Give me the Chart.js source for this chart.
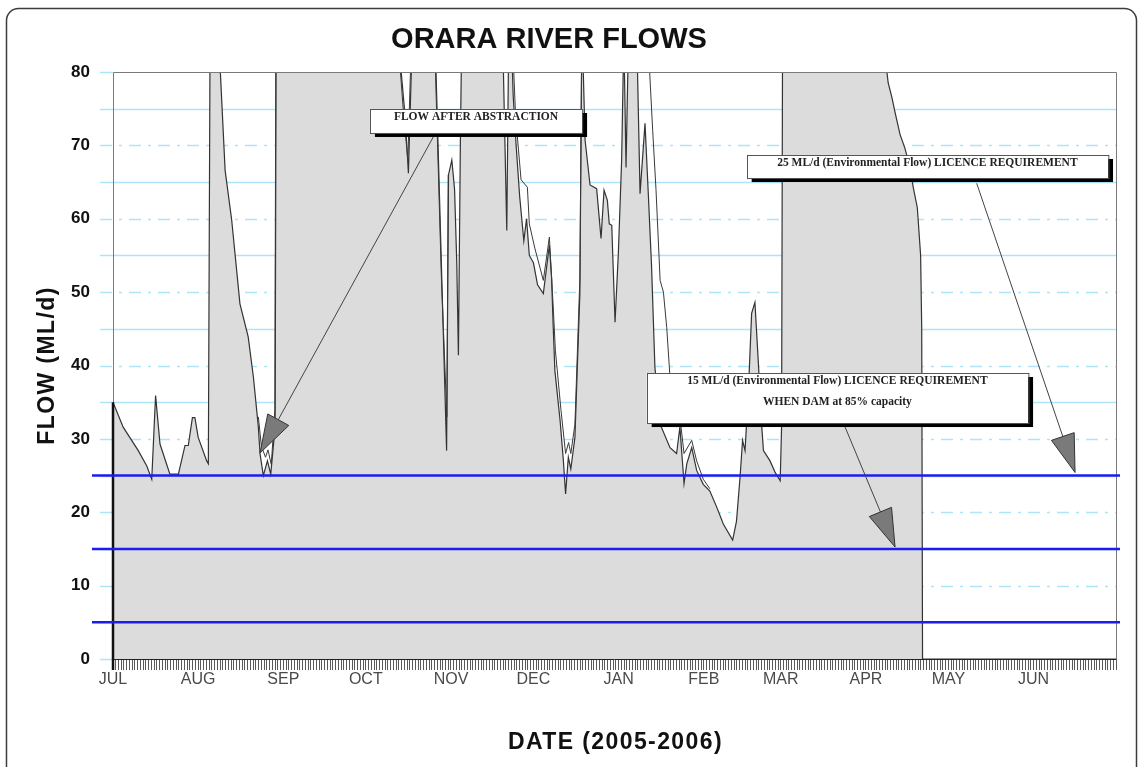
<!DOCTYPE html>
<html>
<head>
<meta charset="utf-8">
<title>Orara River Flows</title>
<script src="https://cdn.jsdelivr.net/npm/chart.js@4/dist/chart.umd.min.js"></script>
<style>
  html, body { margin: 0; padding: 0; background: #fff; }
  #wrap { position: relative; width: 1139px; height: 767px; }
</style>
</head>
<body>
<div id="wrap"><canvas id="myChart"></canvas></div>
<script>
// days counted from 1 July 2005
const monthLabels = ["JUL", "AUG", "SEP", "OCT", "NOV", "DEC", "JAN", "FEB", "MAR", "APR", "MAY", "JUN"]
const monthStartDays = [0, 31, 62, 92, 123, 153, 184, 215, 243, 274, 304, 335]
const yTicks = [0, 10, 20, 30, 40, 50, 60, 70, 80]
const licenceLevels = [25, 15, 5]

// flow after abstraction (grey area), ML/d; values over 80 run off the top
const flowDays = [
    0, 3.7, 9.2, 12.3, 14.1, 15.5, 17.1, 20.7, 23.8, 26.2, 27.4, 28.9, 29.8, 31.0, 34.1, 34.7, 35.7,
    38.8, 40.8, 43.2, 46.2, 49.2, 51.1, 52.9, 53.5, 54.7, 56.2, 57.4, 59.0, 59.6,
    104.4, 106.3, 107.5, 108.7,
    117.4, 121.4, 122.1, 123.3, 124.3, 125.1, 125.7, 126.4, 126.9,
    141.8, 143.3, 144.0,
    145.0, 145.6, 146.7, 148.0, 149.5, 150.5, 151.5, 153.0, 154.5, 156.6, 158.8, 159.6, 160.2, 160.8,
    162.7, 163.9, 164.7, 165.7, 166.6, 168.1, 169.9, 170.6,
    171.0, 171.8, 173.6, 176.0, 177.6, 178.7, 179.9, 180.6, 181.5, 182.7, 183.9, 185.1, 185.9, 186.7, 187.6,
    190.6, 191.8, 193.6, 194.8, 196.0, 197.2, 199.1, 202.7, 205.1, 206.3, 207.8, 208.8, 210.6, 212.4,
    214.8, 217.2, 219.7, 222.1, 225.5, 226.9, 228.2, 229.1, 230.0, 231.2, 232.4, 233.6, 234.8, 236.1,
    236.7, 239.1, 241.0, 242.8, 243.3, 243.9,
    281.0, 282.1, 283.4, 284.6, 286.4, 288.2, 290.0, 291.2, 292.7, 293.9, 294.3, 294.6, 365
]
const flowAfterAbstraction = [
    35.0, 31.6, 28.4, 26.3, 24.5, 35.9, 29.3, 25.2, 25.2, 29.1, 29.1, 32.9, 32.9, 30.2, 27.0, 26.6, 120,
    82, 66.6, 59.8, 48.4, 43.9, 38.4, 31.6, 28.0, 25.0, 27.0, 25.2, 31.6, 120,
    82, 74, 66.2, 82,
    82, 28.4, 66, 68, 64, 54, 41.4, 70, 85,
    85, 58.4, 85,
    85, 77, 70, 63, 57, 60, 55, 54, 51, 49.8, 56.4, 52, 45.2, 39.3,
    32.5, 27.0, 22.5, 27.5, 25.9, 30.2, 49.8, 85,
    82, 70.7, 64.6, 64.1, 57.3, 63.9, 62.5, 59.3, 59.1, 45.9, 55.3, 68, 85, 67, 85,
    85, 63.4, 73, 63.4, 53.4, 39.8, 32, 28.8, 28, 31.6, 23.9, 26.6, 28.8, 25.7,
    23.8, 22.9, 20.7, 18.4, 16.2, 18.8, 24.8, 29.8, 28.4, 36.2, 47.1, 48.6, 40.7, 31.6,
    28.4, 27, 25.4, 24.3, 31.6, 120,
    82, 78.5, 76.6, 74.5, 71.5, 69.6, 67, 64.3, 61.5, 55, 45, 0, 0
]

// natural flow, drawn only where it separates from the abstracted flow (null = gap)
const naturalDays = [
    52.9, 54.0, 55.5, 56.4, 57.6, 58.9, 59.5, 59.6,
    104.2, 105.8, 107.3, 108.4, 108.5,
    117.2, 119.5, 121.5, 122.0, 122.1,
    145.3, 146.5, 148.5, 150.8, 151.5, 153.5, 156.6, 158.8, 160.2, 161.0, 163.0, 164.7, 165.8,
    166.6, 168.1, 169.9, 170.6, 170.7,
    194.6, 196.4, 197.6, 199.1, 200.3, 201.5, 202.7, 205.1, 206.3, 207.8, 210.6, 212.4, 214.8, 217.2
]
const naturalFlow = [
    33, 29, 27.5, 28.5, 26.5, 34, 120, null,
    82, 74, 68, 82, null,
    82, 52, 33, 66, null,
    85, 74, 65.3, 64.3, 59.3, 56, 51.6, 57.5, 48, 42, 34, 28, 29.5,
    28, 32, 52, 85, null,
    85, 72, 64, 51.6, 50, 45.2, 38.4, 31.6, 33, 28, 29.8, 27, 24.5, 23.2
]

// callout boxes and arrows, in chart units (day, ML/d)
const notes = [
    { lines: ["FLOW AFTER ABSTRACTION"], box: [93.5, 74.96, 170.7, 71.69], arrow: [116.6, 71.18, 53.5, 28.07] },
    { lines: ["25 ML/d (Environmental Flow) LICENCE REQUIREMENT"], box: [230.6, 68.69, 362.1, 65.55], arrow: [314.3, 64.83, 350.1, 25.42] },
    { lines: ["15 ML/d (Environmental Flow) LICENCE REQUIREMENT", "WHEN DAM at 85% capacity"], box: [194.2, 38.98, 333.0, 32.16], arrow: [266.4, 31.62, 284.6, 15.26] }
]

function main() {
    Chart.defaults.font.family = "'Liberation Sans', Arial, sans-serif"

    const flowPoints = flowDays.map((d, i) => ({ x: d, y: flowAfterAbstraction[i] }))
    const naturalPoints = naturalDays.map((d, i) => ({ x: d, y: naturalFlow[i] }))

    new Chart(document.getElementById("myChart"), {
        type: "line",
        data: {
            datasets: [
                {
                    label: "Natural flow",
                    data: naturalPoints,
                    borderColor: "#3a3a3a",
                    borderWidth: 1,
                    pointRadius: 0,
                    fill: false,
                    spanGaps: false,
                },
                {
                    label: "Flow after abstraction",
                    data: flowPoints,
                    borderColor: "#333",
                    borderWidth: 1.2,
                    backgroundColor: "#dcdcdc",
                    pointRadius: 0,
                    fill: "origin",
                },
            ],
        },
        options: {
            responsive: true,
            maintainAspectRatio: false,
            animation: false,
            layout: { padding: { top: 72, left: 20, right: 23, bottom: 20 } },
            plugins: { legend: { display: false }, tooltip: { enabled: false } },
            elements: { line: { tension: 0 } },
            scales: {
                x: {
                    type: "linear",
                    min: 0,
                    max: 365,
                    afterBuildTicks: scale => {
                        const t = []
                        for (let d = 0; d <= 365; d++) t.push({ value: d })
                        scale.ticks = t
                    },
                    afterFit: scale => { scale.height = 88 },
                    grid: {
                        drawOnChartArea: false,
                        drawTicks: true,
                        tickLength: 11,
                        tickColor: "#5a5a5a",
                        tickWidth: 1,
                    },
                    border: { display: false },
                    ticks: {
                        autoSkip: false,
                        maxRotation: 0,
                        padding: 0,
                        color: "#4a4a4a",
                        font: { size: 16 },
                        callback: value => {
                            const i = monthStartDays.indexOf(value)
                            return i >= 0 ? monthLabels[i] : ""
                        },
                    },
                },
                y: {
                    min: 0,
                    max: 80,
                    afterBuildTicks: scale => { scale.ticks = yTicks.map(v => ({ value: v })) },
                    afterFit: scale => { scale.width = 93 },
                    grid: { display: false },
                    border: { display: false },
                    ticks: {
                        padding: 15,
                        color: "#111",
                        font: { size: 17, weight: "bold" },
                    },
                },
            },
        },
        plugins: [decor],
    })
}

const decor = {
    id: "decor",
    beforeDraw(chart) {
        const ctx = chart.ctx
        ctx.save()
        ctx.fillStyle = "#fff"
        ctx.fillRect(0, 0, chart.width, chart.height)
        ctx.strokeStyle = "#3c3c3c"
        ctx.lineWidth = 1.5
        ctx.beginPath()
        ctx.roundRect(6.5, 8.5, 1130, 790, 12)
        ctx.stroke()
        ctx.restore()
    },
    beforeDatasetsDraw(chart) {
        const { ctx, chartArea: a } = chart
        const y = chart.scales.y
        ctx.save()
        ctx.strokeStyle = "#aee4f8"
        ctx.lineWidth = 1.5
        for (let v = 0; v <= 80; v += 5) {
            const py = Math.round(y.getPixelForValue(v)) + 0.5
            const edge = v === 0 || v === 80
            ctx.setLineDash(v % 10 === 0 && !edge ? [12, 7, 3, 7] : [])
            ctx.beginPath()
            ctx.moveTo(a.left - 13, py)
            ctx.lineTo(edge ? a.left : a.right, py)
            ctx.stroke()
        }
        ctx.restore()
    },
    afterDatasetsDraw(chart) {
        const { ctx, chartArea: a } = chart
        const xs = chart.scales.x
        const ys = chart.scales.y
        ctx.save()

        // frame
        ctx.strokeStyle = "#7a7a7a"
        ctx.lineWidth = 1
        ctx.beginPath()
        ctx.moveTo(a.left + 0.5, a.bottom)
        ctx.lineTo(a.left + 0.5, a.top + 0.5)
        ctx.lineTo(a.right + 0.5, a.top + 0.5)
        ctx.lineTo(a.right + 0.5, a.bottom)
        ctx.stroke()
        ctx.strokeStyle = "#222"
        ctx.beginPath()
        ctx.moveTo(a.left, a.bottom + 0.5)
        ctx.lineTo(a.right, a.bottom + 0.5)
        ctx.stroke()
        ctx.lineWidth = 2.5
        ctx.strokeStyle = "#111"
        ctx.beginPath()
        ctx.moveTo(a.left, ys.getPixelForValue(flowAfterAbstraction[0]))
        ctx.lineTo(a.left, a.bottom + 11)
        ctx.stroke()

        // licence requirement lines
        ctx.strokeStyle = "#1c1cf0"
        ctx.lineWidth = 2.5
        licenceLevels.forEach(v => {
            const py = ys.getPixelForValue(v)
            ctx.beginPath()
            ctx.moveTo(a.left - 21, py)
            ctx.lineTo(a.right + 4, py)
            ctx.stroke()
        })

        // callouts
        notes.forEach(n => {
            drawArrow(ctx,
                xs.getPixelForValue(n.arrow[0]), ys.getPixelForValue(n.arrow[1]),
                xs.getPixelForValue(n.arrow[2]), ys.getPixelForValue(n.arrow[3]))
        })
        notes.forEach(n => {
            const x0 = xs.getPixelForValue(n.box[0])
            const y0 = ys.getPixelForValue(n.box[1])
            const x1 = xs.getPixelForValue(n.box[2])
            const y1 = ys.getPixelForValue(n.box[3])
            ctx.fillStyle = "#000"
            ctx.fillRect(x0 + 5, y0 + 4, x1 - x0, y1 - y0)
            ctx.fillStyle = "#fff"
            ctx.fillRect(x0, y0, x1 - x0, y1 - y0)
            ctx.strokeStyle = "#555"
            ctx.lineWidth = 1
            ctx.strokeRect(Math.round(x0) + 0.5, Math.round(y0) + 0.5, x1 - x0, y1 - y0)
            ctx.fillStyle = "#222"
            ctx.font = "bold 11.5px 'Liberation Serif', 'Times New Roman', serif"
            ctx.textAlign = "center"
            ctx.textBaseline = "middle"
            n.lines.forEach((t, i) => {
                ctx.fillText(t, (x0 + x1) / 2, y0 + 8 + i * 21)
            })
        })

        ctx.restore()
    },
    afterDraw(chart) {
        const { ctx, chartArea: a } = chart
        ctx.save()
        ctx.fillStyle = "#111"
        ctx.textAlign = "center"
        ctx.textBaseline = "middle"
        ctx.font = "bold 29px 'Liberation Sans', Arial, sans-serif"
        ctx.fillText("ORARA RIVER FLOWS", 549, 40)
        ctx.font = "bold 23px 'Liberation Sans', Arial, sans-serif"
        ctx.letterSpacing = "1.4px"
        ctx.fillText("DATE (2005-2006)", (a.left + a.right) / 2 + 1, 743)
        ctx.translate(48, (a.top + a.bottom) / 2)
        ctx.rotate(-Math.PI / 2)
        ctx.fillText("FLOW (ML/d)", 0, 0)
        ctx.restore()
    },
}

function drawArrow(ctx, x0, y0, x1, y1) {
    const ang = Math.atan2(y1 - y0, x1 - x0)
    const len = 38
    const hw = 12
    const bx = x1 - len * Math.cos(ang)
    const by = y1 - len * Math.sin(ang)
    ctx.strokeStyle = "#444"
    ctx.lineWidth = 1
    ctx.beginPath()
    ctx.moveTo(x0, y0)
    ctx.lineTo(bx, by)
    ctx.stroke()
    ctx.beginPath()
    ctx.moveTo(x1, y1)
    ctx.lineTo(bx + hw * Math.sin(ang), by - hw * Math.cos(ang))
    ctx.lineTo(bx - hw * Math.sin(ang), by + hw * Math.cos(ang))
    ctx.closePath()
    ctx.fillStyle = "#7a7a7a"
    ctx.fill()
    ctx.strokeStyle = "#333"
    ctx.stroke()
}

document.addEventListener("DOMContentLoaded", main)
</script>
</body>
</html>
